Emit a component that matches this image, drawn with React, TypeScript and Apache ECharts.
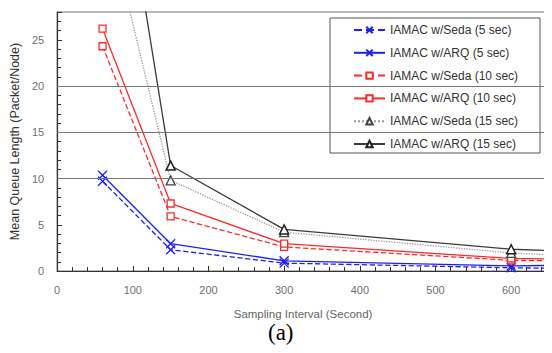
import React, { useEffect, useRef } from "react";
import * as echarts from "echarts";

const xValues = [60, 150, 300, 600, 650];
const sedaQ5 = [9.7, 2.3, 0.85, 0.35, 0.3];
const arqQ5 = [10.35, 2.95, 1.1, 0.55, 0.6];
const sedaQ10 = [24.3, 5.9, 2.6, 1.15, 1.1];
const arqQ10 = [26.2, 7.3, 2.95, 1.35, 1.3];
const sedaQ15 = [40.3, 9.8, 4.2, 1.95, 1.75];
const arqQ15 = [57, 11.4, 4.5, 2.35, 2.2];
const gridLineValues = [10, 15, 20];

const seriesNames = [
  "IAMAC w/Seda (5 sec)",
  "IAMAC w/ARQ (5 sec)",
  "IAMAC w/Seda (10 sec)",
  "IAMAC w/ARQ (10 sec)",
  "IAMAC w/Seda (15 sec)",
  "IAMAC w/ARQ (15 sec)",
];

const xSymbol = "path://M0,0L10,10M10,0L0,10";
const FONT = "'Liberation Sans', Arial, sans-serif";

function build(values: number[], hideFirst: boolean) {
  return values.map((v, i) => {
    const item: any = { value: [xValues[i], v] };
    if (i === values.length - 1 || (hideFirst && i === 0)) item.symbol = "none";
    return item;
  });
}

export default function App() {
  const ref = useRef<HTMLDivElement>(null);
  useEffect(() => {
    if (!ref.current) return;
    const chart = echarts.init(ref.current, null, { renderer: "svg" });
    const blue = "#1f1ff5";
    const red = "#ff2b2b";
    const gray = "#9a9a9a";
    const black = "#3a3a3a";
    const mk = (
      name: string,
      data: number[],
      color: string,
      type: string,
      symbol: string,
      size: number,
      hideFirst: boolean,
      extra: any = {}
    ) => ({
      name,
      type: "line",
      data: build(data, hideFirst),
      symbol,
      symbolSize: size,
      clip: true,
      lineStyle: { color, width: 1.3, type },
      itemStyle: {
        color: symbol === xSymbol ? "transparent" : "#fff",
        borderColor: color,
        borderWidth: 1.3,
      },
      ...extra,
    });
    chart.setOption({
      animation: false,
      grid: {
        left: 53,
        top: 12,
        right: 3,
        bottom: 82,
        show: true,
        borderColor: "#777",
        borderWidth: 1,
      },
      legend: {
        orient: "vertical",
        left: 330,
        top: 18,
        padding: [6, 22, 3, 23],
        itemWidth: 31,
        itemHeight: 8,
        itemGap: 10.8,
        backgroundColor: "#fff",
        borderColor: "#555",
        borderWidth: 1,
        textStyle: {
          fontFamily: FONT,
          fontSize: 12,
          color: "#333",
        },
        data: seriesNames,
      },
      xAxis: {
        type: "value",
        min: 0,
        max: 650,
        interval: 100,
        name: "Sampling Interval (Second)",
        nameLocation: "middle",
        nameGap: 37,
        nameTextStyle: {
          fontFamily: FONT,
          fontSize: 11.5,
          color: "#666",
        },
        axisLine: { lineStyle: { color: "#333", width: 1.2 } },
        axisTick: { inside: true, length: 5, lineStyle: { color: "#333" } },
        minorTick: { show: true, splitNumber: 5, length: 4, lineStyle: { color: "#333" } },
        splitLine: { show: false },
        axisLabel: {
          showMaxLabel: false,
          margin: 13,
          fontFamily: FONT,
          fontSize: 11,
          color: "#707070",
        },
      },
      yAxis: {
        type: "value",
        min: 0,
        max: 28,
        interval: 5,
        name: "Mean Queue Length (Packet/Node)",
        nameLocation: "middle",
        nameGap: 31,
        nameTextStyle: {
          fontFamily: FONT,
          fontSize: 12.5,
          color: "#333",
        },
        axisLine: { show: true, lineStyle: { color: "#333", width: 1.2 } },
        axisTick: { show: true, inside: true, length: 5, lineStyle: { color: "#333" } },
        minorTick: { show: true, splitNumber: 5, length: 4, lineStyle: { color: "#333" } },
        splitLine: { show: false },
        axisLabel: {
          showMaxLabel: false,
          margin: 13,
          fontFamily: FONT,
          fontSize: 11,
          color: "#707070",
        },
      },
      series: [
        mk(seriesNames[0], sedaQ5, blue, "dashed", xSymbol, 9, false, {
          markLine: {
            silent: true,
            symbol: "none",
            label: { show: false },
            lineStyle: { color: "#777", width: 1, type: "solid" },
            data: gridLineValues.map((v) => ({ yAxis: v })),
          },
        }),
        mk(seriesNames[1], arqQ5, blue, "solid", xSymbol, 9, false),
        mk(seriesNames[2], sedaQ10, red, "dashed", "rect", 7, false),
        mk(seriesNames[3], arqQ10, red, "solid", "rect", 7, false),
        mk(seriesNames[4], sedaQ15, gray, "dotted", "triangle", 9, true, {
          itemStyle: { color: "#fff", borderColor: "#444", borderWidth: 1.3 },
        }),
        mk(seriesNames[5], arqQ15, black, "solid", "triangle", 9, true, {
          itemStyle: { color: "#fff", borderColor: "#222", borderWidth: 1.5 },
        }),
      ],
      graphic: [
        {
          type: "text",
          left: 268,
          top: 321,
          style: {
            text: "(a)",
            fontFamily: "'Liberation Serif', 'Times New Roman', serif",
            fontSize: 23,
            fill: "#000",
          },
        },
      ],
    });
    return () => chart.dispose();
  }, []);
  return <div ref={ref} style={{ width: 552, height: 353, margin: -8 }} />;
}
